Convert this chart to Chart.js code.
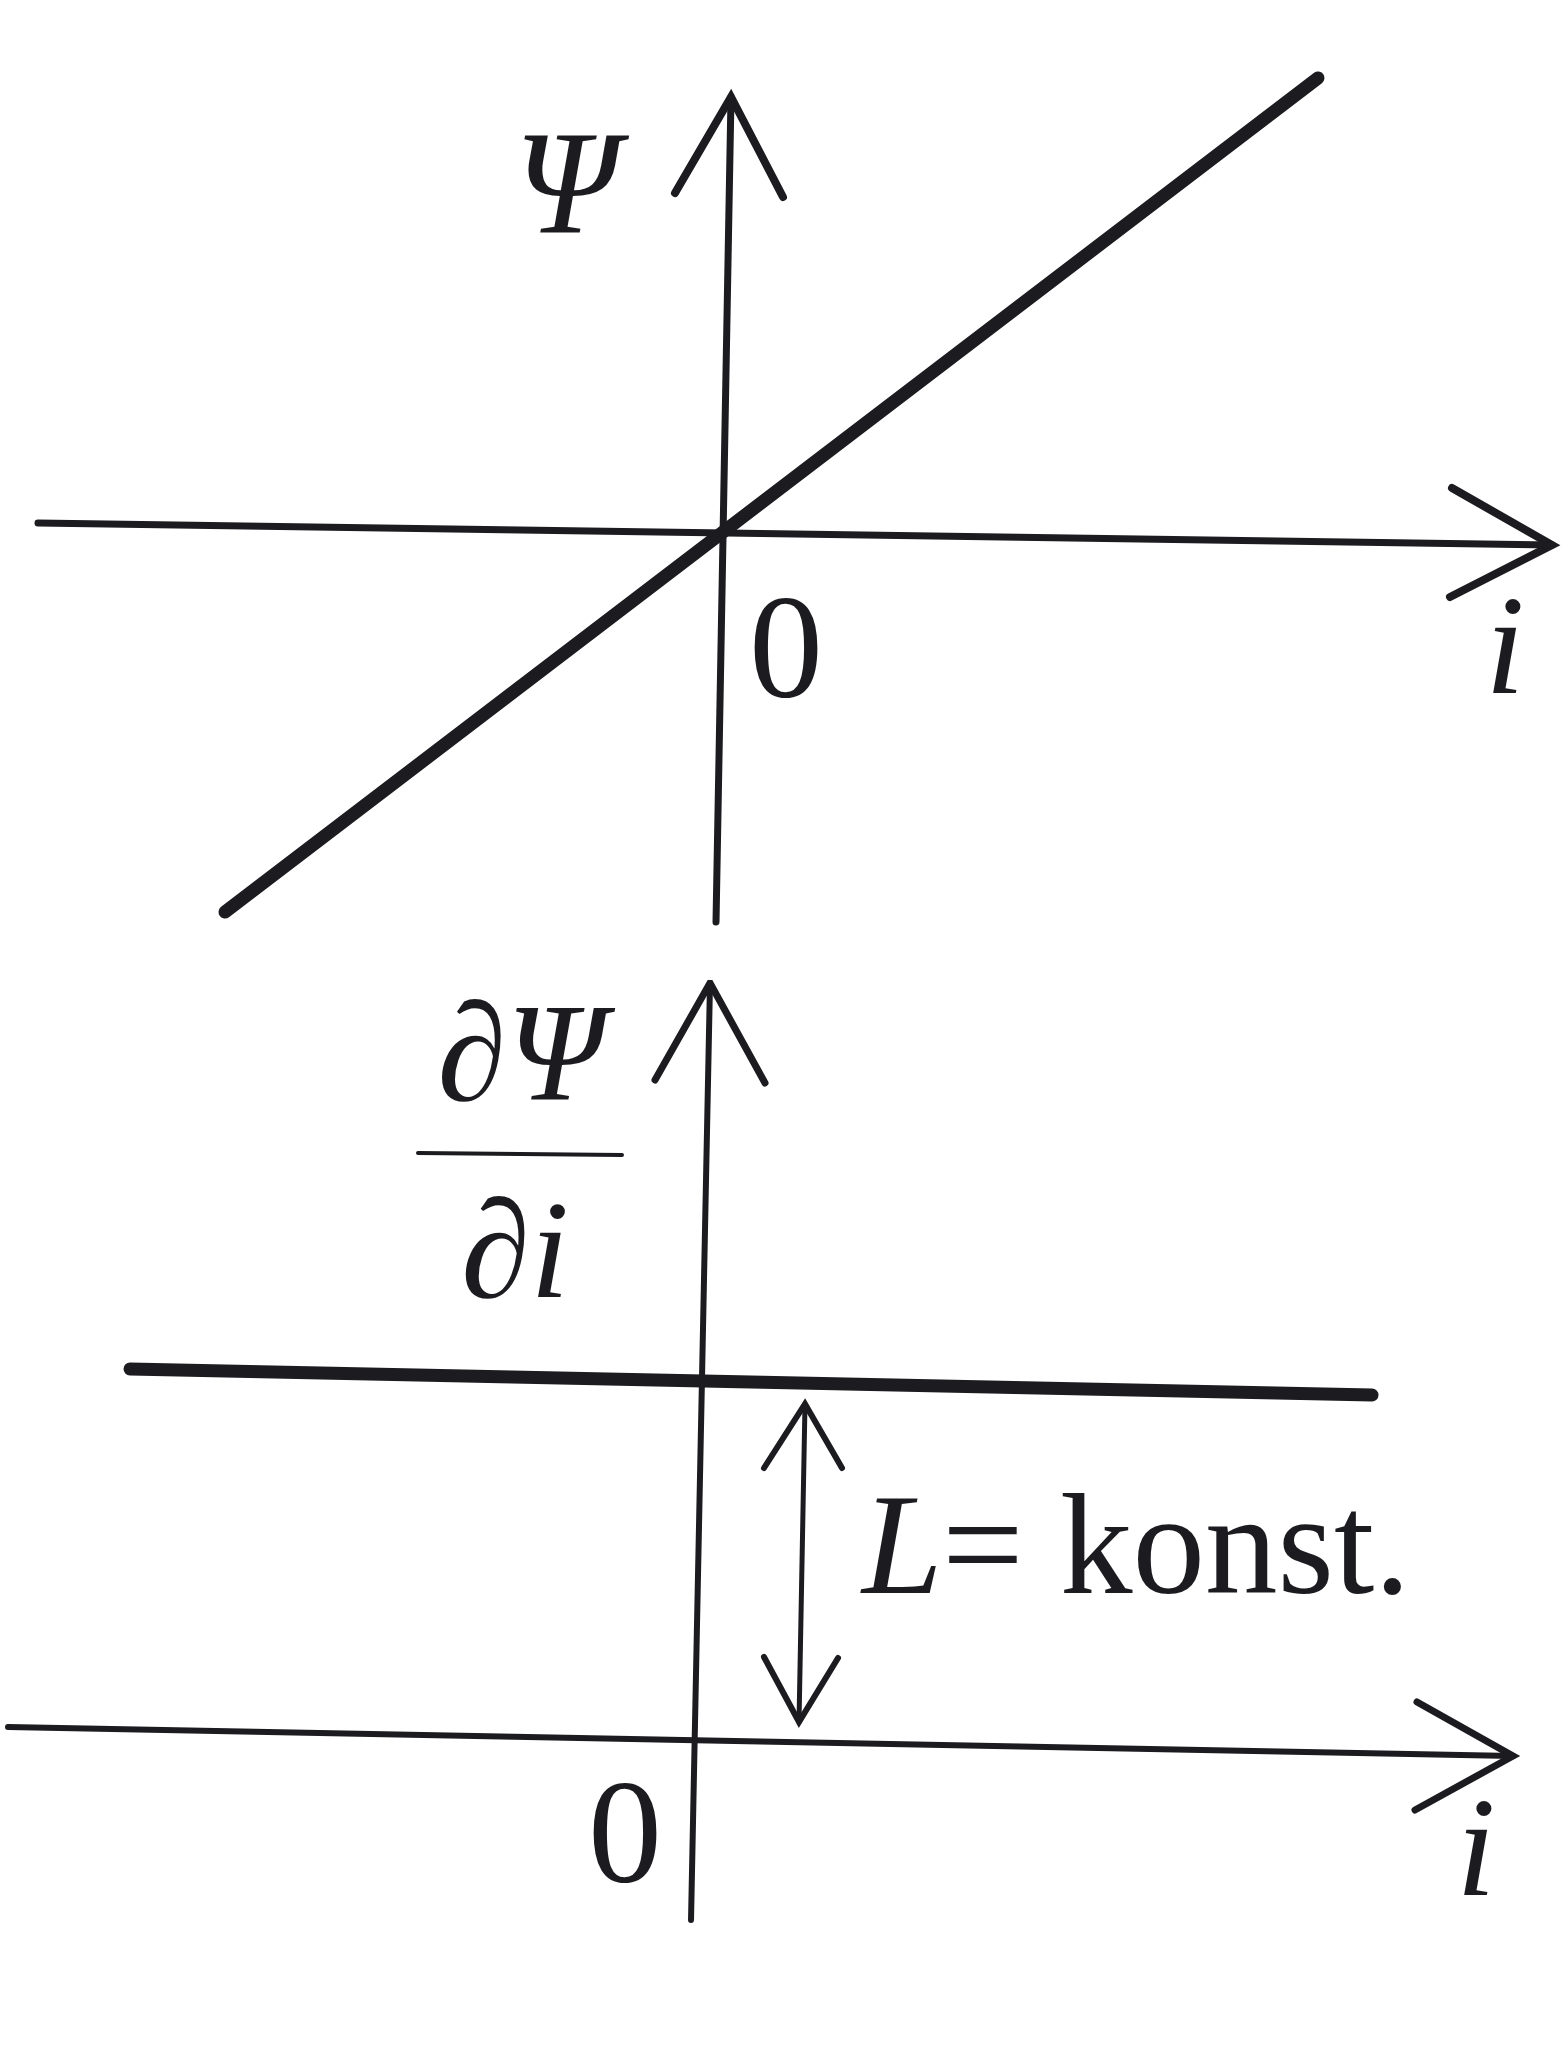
<!DOCTYPE html>
<html>
<head>
<meta charset="utf-8">
<script src="https://cdn.jsdelivr.net/npm/chart.js@4/dist/chart.umd.min.js"></script>
<style>
  html, body { margin: 0; padding: 0; background: #ffffff; }
  canvas { display: block; }
  #warm { position: absolute; left: -9999px; top: 0; font-family: "Liberation Serif"; }
</style>
</head>
<body>
<div id="warm"><span style="font-style:italic">Ψ i L ∂</span><span>0 = konst.</span></div>
<canvas id="top" width="1568" height="980"></canvas>
<canvas id="bottom" width="1568" height="1071"></canvas>
<script>
// ---- data ----
const iTop = [-4.98, 5.95];          // current i (top plot)
const psiValues = [-3.82, 4.52];     // flux linkage Ψ(i)
const iBottom = [-5.72, 6.70];       // current i (bottom plot)
const dPsiValues = [3.71, 3.45];     // ∂Ψ/∂i = L (constant)
const topLabels = ['Ψ', '0', 'i'];
const bottomLabels = ['∂Ψ', '∂i', '0', 'i', 'L', '= konst.'];

// ---- drawing layout (axis extents / arrows / label anchors) ----
const INK = '#1c1b20';
const topAxes = {
  hAxis: [{x: -6.85, y: 0.07}, {x: 8.29, y: -0.15}],
  hArrow: [{x: 7.29, y: 0.42}, {x: 8.29, y: -0.15}, {x: 7.27, y: -0.67}],
  vAxis: [{x: 0.08, y: 4.33}, {x: -0.07, y: -3.92}],
  vArrow: [{x: -0.48, y: 3.37}, {x: 0.08, y: 4.33}, {x: 0.60, y: 3.33}]
};
const bottomAxes = {
  hAxis: [{x: -6.94, y: 0.13}, {x: 8.11, y: -0.16}],
  hArrow: [{x: 7.15, y: 0.38}, {x: 8.11, y: -0.16}, {x: 7.13, y: -0.70}],
  vAxis: [{x: 0.08, y: 7.57}, {x: -0.11, y: -1.80}],
  vArrow: [{x: -0.47, y: 6.60}, {x: 0.08, y: 7.57}, {x: 0.63, y: 6.57}],
  dShaft: [{x: 1.03, y: 3.36}, {x: 0.97, y: 0.18}],
  dUp: [{x: 0.62, y: 2.72}, {x: 1.03, y: 3.36}, {x: 1.40, y: 2.72}],
  dDown: [{x: 0.62, y: 0.83}, {x: 0.97, y: 0.18}, {x: 1.36, y: 0.82}],
  fracBar: [{x: -2.84, y: 5.87}, {x: -0.80, y: 5.85}]
};

const SERIF = '"Liberation Serif", serif';
const topText = [
  {t: topLabels[0], x: -1.57, y: 2.97, font: 'italic 148px ' + SERIF, align: 'center'},
  {t: topLabels[1], x: 0.63, y: -1.67, font: '148px ' + SERIF, align: 'center'},
  {t: topLabels[2], x: 7.82, y: -1.63, font: 'italic 142px ' + SERIF, align: 'center'}
];
const bottomText = [
  {t: bottomLabels[0], x: -1.81, y: 6.40, font: 'italic 140px ' + SERIF, align: 'center'},
  {t: bottomLabels[1], x: -1.87, y: 4.43, font: 'italic 140px ' + SERIF, align: 'center'},
  {t: bottomLabels[2], x: -0.77, y: -1.42, font: '148px ' + SERIF, align: 'center'},
  {t: bottomLabels[3], x: 7.74, y: -1.55, font: 'italic 142px ' + SERIF, align: 'center'},
  {t: bottomLabels[4], x: 1.60, y: 1.47, font: 'italic 145px ' + SERIF, align: 'left'},
  {t: bottomLabels[5], x: 2.40, y: 1.47, font: '145px ' + SERIF, align: 'left'}
];

function lineDs(points, width) {
  return {
    data: points, showLine: true, pointRadius: 0, borderColor: INK,
    borderWidth: width, borderCapStyle: 'round', borderJoinStyle: 'miter',
    fill: false, tension: 0
  };
}

function textPlugin(items) {
  return {
    id: 'labels',
    afterDatasetsDraw(chart) {
      const ctx = chart.ctx, xs = chart.scales.x, ys = chart.scales.y;
      ctx.save();
      ctx.fillStyle = INK;
      ctx.textBaseline = 'alphabetic';
      items.forEach(it => {
        ctx.font = it.font;
        ctx.textAlign = it.align;
        ctx.fillText(it.t, xs.getPixelForValue(it.x), ys.getPixelForValue(it.y));
      });
      ctx.restore();
    }
  };
}

function baseOptions(xmin, xmax, ymin, ymax) {
  return {
    responsive: false, animation: false, events: [],
    layout: {padding: 0},
    plugins: {legend: {display: false}, tooltip: {enabled: false}},
    scales: {
      x: {type: 'linear', min: xmin, max: xmax, display: false},
      y: {type: 'linear', min: ymin, max: ymax, display: false}
    }
  };
}

function build() {
  // top chart: Ψ(i)
  new Chart(document.getElementById('top'), {
    type: 'scatter',
    data: {
      datasets: [
        lineDs(topAxes.hAxis, 7),
        lineDs(topAxes.hArrow, 8),
        lineDs(topAxes.vAxis, 7),
        lineDs(topAxes.vArrow, 8),
        lineDs(iTop.map((v, k) => ({x: v, y: psiValues[k]})), 13)
      ]
    },
    options: baseOptions(-7.23, 8.45, -4.50, 5.30),
    plugins: [textPlugin(topText)]
  });

  // bottom chart: ∂Ψ/∂i
  new Chart(document.getElementById('bottom'), {
    type: 'scatter',
    data: {
      datasets: [
        lineDs(bottomAxes.hAxis, 6),
        lineDs(bottomAxes.hArrow, 7),
        lineDs(bottomAxes.vAxis, 6),
        lineDs(bottomAxes.vArrow, 7),
        lineDs(bottomAxes.dShaft, 5),
        lineDs(bottomAxes.dUp, 6),
        lineDs(bottomAxes.dDown, 6),
        lineDs(bottomAxes.fracBar, 4),
        lineDs(iBottom.map((v, k) => ({x: v, y: dPsiValues[k]})), 13)
      ]
    },
    options: baseOptions(-7.02, 8.66, -3.11, 7.60),
    plugins: [textPlugin(bottomText)]
  });
}

Promise.all([
  document.fonts.load('italic 145px "Liberation Serif"', 'ΨiL∂'),
  document.fonts.load('145px "Liberation Serif"', '0= konst.')
]).then(build, build);
</script>
</body>
</html>
